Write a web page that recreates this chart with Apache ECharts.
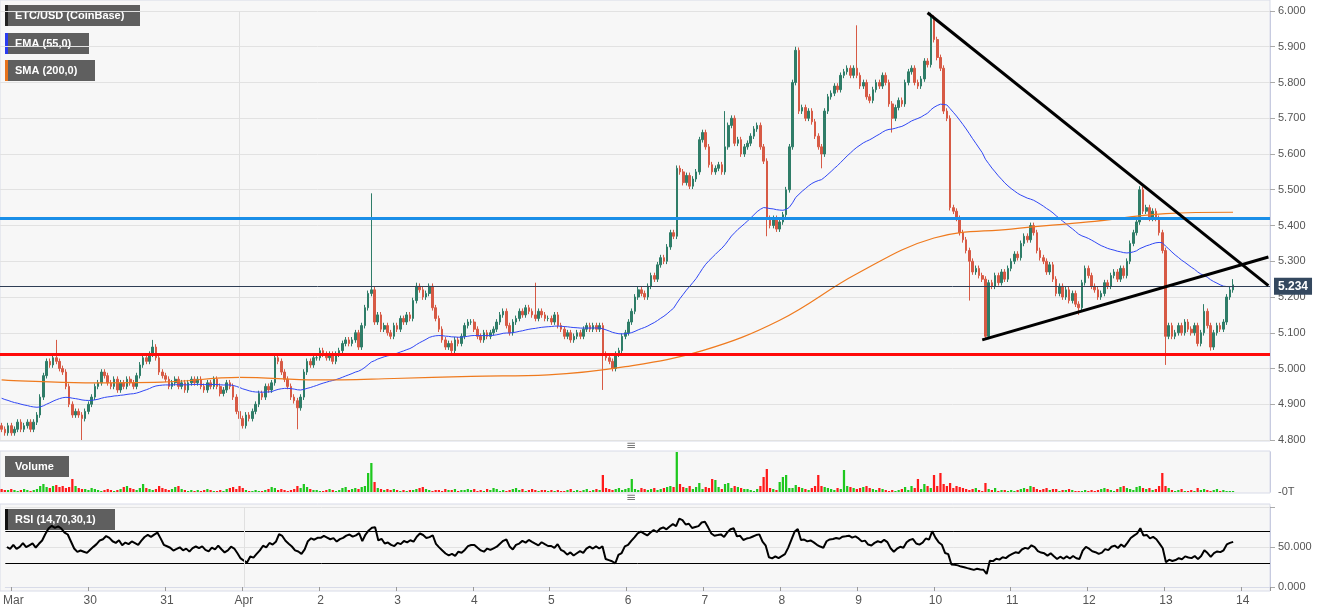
<!DOCTYPE html>
<html>
<head>
<meta charset="utf-8">
<script src="https://cdn.jsdelivr.net/npm/echarts@6/dist/echarts.min.js"></script>
<style>html,body{margin:0;padding:0;background:#fff}#main{width:1331px;height:615px}</style>
</head>
<body>
<div id="main"></div>
<script>
// hourly closes, Mar 28 22:00 -> Apr 13 21:00
var pre   = [4.83, 4.82];
var mar29 = [4.84,4.82,4.83,4.85,4.83,4.84,4.85,4.83,4.85,4.87,4.92,4.98,5.02,5.01,5.03,5.02,5.00,4.99,4.95,4.90,4.87,4.88,4.87,4.86];
var mar30 = [4.88,4.90,4.92,4.95,4.96,4.99,4.98,4.96,4.95,4.97,4.94,4.96,4.95,4.97,4.96,4.95,4.98,5.01,5.03,5.02,5.04,5.06,5.03,4.99];
var mar31 = [4.98,4.97,4.95,4.96,4.97,4.95,4.96,4.94,4.96,4.97,4.96,4.97,4.95,4.94,4.96,4.95,4.97,4.95,4.93,4.94,4.96,4.95,4.92,4.88];
var apr1  = [4.86,4.84,4.87,4.86,4.88,4.90,4.93,4.92,4.95,4.94,4.96,5.03,5.02,4.99,4.97,4.95,4.92,4.91,4.89,4.92,4.99,5.02,5.01,5.03];
var apr2  = [5.03,5.05,5.04,5.03,5.04,5.02,5.04,5.05,5.07,5.08,5.07,5.08,5.10,5.06,5.12,5.17,5.21,5.22,5.13,5.15,5.11,5.12,5.10,5.09];
var apr3  = [5.12,5.11,5.14,5.13,5.15,5.14,5.19,5.23,5.22,5.20,5.21,5.23,5.17,5.14,5.11,5.08,5.06,5.07,5.05,5.08,5.07,5.09,5.12,5.13];
var apr4  = [5.13,5.11,5.09,5.08,5.10,5.09,5.10,5.11,5.13,5.15,5.16,5.12,5.10,5.13,5.14,5.16,5.15,5.17,5.16,5.15,5.14,5.16,5.15,5.14];
var apr5  = [5.14,5.13,5.15,5.12,5.11,5.09,5.10,5.08,5.09,5.10,5.09,5.11,5.12,5.11,5.12,5.11,5.12,5.04,5.03,5.02,5.00,5.04,5.05,5.09];
var apr6  = [5.10,5.13,5.16,5.20,5.22,5.21,5.20,5.23,5.26,5.25,5.29,5.31,5.30,5.34,5.38,5.37,5.56,5.55,5.52,5.54,5.51,5.53,5.55,5.64];
var apr7  = [5.66,5.62,5.57,5.55,5.56,5.57,5.55,5.62,5.68,5.70,5.63,5.64,5.60,5.62,5.63,5.65,5.67,5.68,5.62,5.58,5.42,5.40,5.42,5.39];
var apr8  = [5.41,5.43,5.50,5.62,5.80,5.89,5.72,5.73,5.70,5.72,5.69,5.65,5.62,5.60,5.72,5.76,5.77,5.79,5.78,5.82,5.83,5.84,5.82,5.84];
var apr9  = [5.82,5.79,5.80,5.76,5.75,5.78,5.80,5.79,5.82,5.80,5.74,5.70,5.73,5.75,5.74,5.80,5.83,5.84,5.80,5.79,5.81,5.86,5.85,5.98];
var apr10 = [5.92,5.87,5.84,5.72,5.70,5.45,5.44,5.42,5.38,5.36,5.33,5.30,5.27,5.28,5.26,5.25,5.09,5.24,5.23,5.26,5.24,5.27,5.25,5.28];
var apr11 = [5.30,5.32,5.31,5.35,5.37,5.36,5.40,5.38,5.33,5.31,5.30,5.27,5.29,5.25,5.21,5.23,5.20,5.22,5.19,5.21,5.18,5.17,5.24,5.28];
var apr12 = [5.26,5.23,5.22,5.20,5.21,5.24,5.23,5.26,5.27,5.25,5.28,5.26,5.30,5.35,5.38,5.41,5.50,5.44,5.45,5.42,5.44,5.42,5.38,5.33];
var apr13 = [5.09,5.12,5.09,5.10,5.12,5.10,5.13,5.11,5.10,5.12,5.07,5.10,5.16,5.12,5.06,5.10,5.12,5.11,5.13,5.20,5.22,5.234];

// long wicks: [day index (0 = Mar 29), hour, high, low]
var wicks = [
  [0,15,5.08,null],[0,23,null,4.80],[1,21,5.08,null],[3,0,null,4.80],[3,18,null,4.83],
  [4,17,5.49,null],[5,7,5.24,null],[6,20,5.24,null],[7,17,null,4.94],
  [9,7,5.72,null],[9,20,null,5.37],[10,5,5.90,null],[10,13,null,5.56],
  [11,0,5.96,null],[11,11,null,5.66],[11,23,5.995,null],
  [12,11,null,5.19],[12,16,null,5.08],[13,21,null,5.15],[14,16,5.51,null],
  [15,0,null,5.01],[15,12,5.18,null],[15,14,null,5.05],[15,21,5.25,null]
];

// volume, same hours
var volPre   = [3,2];
var vol29 = [2,3,2,1,2,3,2,1,2,3,6,8,5,4,6,7,5,6,4,5,13,6,4,3];
var vol30 = [3,2,4,3,2,1,2,3,2,1,2,3,5,6,4,3,2,4,8,4,3,2,3,6];
var vol31 = [4,3,2,3,5,6,3,2,1,2,1,2,1,2,3,2,1,1,2,1,3,4,5,3];
var volA1 = [6,4,2,1,1,2,1,1,2,3,5,4,2,3,2,1,2,3,6,4,8,5,3,2];
var volA2 = [2,1,1,2,3,2,1,2,4,5,2,3,4,3,5,6,19,29,10,4,3,2,3,2];
var volA3 = [3,2,1,2,1,2,2,3,4,5,3,2,1,2,2,1,3,2,2,3,1,2,2,3];
var volA4 = [2,3,1,2,1,3,2,4,3,1,2,1,2,3,4,2,3,1,2,3,2,1,2,2];
var volA5 = [1,2,1,2,1,1,2,3,1,2,1,2,3,1,2,3,2,17,4,3,2,3,4,2];
var volA6 = [3,4,13,3,2,4,3,2,3,4,2,3,4,5,6,5,40,8,5,4,6,3,5,9];
var volA7 = [3,5,4,13,12,5,3,8,9,4,6,5,4,3,3,2,1,3,6,15,23,4,3,2];
var volA8 = [10,15,17,4,4,7,5,4,3,2,4,6,17,6,5,4,3,2,4,3,22,6,5,4];
var volA9 = [3,4,5,6,4,3,2,4,3,2,1,2,1,2,3,5,2,6,4,13,3,8,6,4];
var volA10 = [17,6,19,8,6,9,4,6,5,4,3,2,3,4,2,1,9,3,2,4,1,2,2,1];
var volA11 = [2,1,2,3,4,3,6,5,3,2,3,4,2,3,3,1,2,2,3,2,1,1,1,2];
var volA12 = [1,2,1,2,3,4,3,2,1,3,5,6,4,3,2,5,6,4,3,4,2,3,6,19];
var volA13 = [6,4,2,1,2,3,1,1,2,1,4,2,3,2,1,2,3,1,2,1,1,1];

// SMA(200) read at each midnight, Mar 29 .. Apr 13, plus last candle
var smaDaily = [4.967,4.960,4.962,4.975,4.968,4.972,4.978,4.982,5.005,5.05,5.135,5.265,5.365,5.39,5.41,5.433];
var smaLast = 5.437;

var dayNames = ['Mar','30','31','Apr','2','3','4','5','6','7','8','9','10','11','12','13','14'];
var lastPrice = 5.234, blueLevel = 5.415, redLevel = 5.038;

var closes = [].concat(pre,mar29,mar30,mar31,apr1,apr2,apr3,apr4,apr5,apr6,apr7,apr8,apr9,apr10,apr11,apr12,apr13);
var vols = [].concat(volPre,vol29,vol30,vol31,volA1,volA2,volA3,volA4,volA5,volA6,volA7,volA8,volA9,volA10,volA11,volA12,volA13);
var N = 395, n = closes.length;

var cats = [];
for (var i = 0; i < N; i++) cats.push('c' + i);

var candles = [], volData = [];
for (var i = 0; i < n; i++) {
  var o = i ? closes[i-1] : 4.84, c = closes[i];
  candles.push([o, c, Math.min(o,c) - 0.008, Math.max(o,c) + 0.008]);
  volData.push({value: vols[i], itemStyle: {color: c >= o ? '#1ec81e' : '#ff1a1a'}});
}
wicks.forEach(function (w) {
  var k = 2 + w[0]*24 + w[1];
  if (w[2] != null) candles[k][3] = w[2];
  if (w[3] != null) candles[k][2] = w[3];
});

// EMA 55
var ema = [], e = 4.92, a = 2/56;
for (var i = 0; i < n; i++) { e = e + a*(closes[i]-e); ema.push(+e.toFixed(4)); }
// SMA points
var sma = new Array(n).fill(null);
sma[0] = 4.968;
smaDaily.forEach(function (v, d) { sma[2 + d*24] = v; });
sma[n-1] = smaLast;
// RSI 14 (Wilder)
var rsi = [], ag = 0.008, al = 0.008;
for (var i = 0; i < n; i++) {
  var ch = i ? closes[i] - closes[i-1] : 0;
  ag = (ag*13 + Math.max(ch,0))/14; al = (al*13 + Math.max(-ch,0))/14;
  rsi.push(+(100 - 100/(1 + ag/al)).toFixed(2));
}

var W = 1270;
function isDay(i) { return i >= 2 && (i-2) % 24 === 0; }
var aprIdx = 2 + 3*24;

function box(txt, x, y, w, stripe) {
  return {type: 'group', left: x, top: y, children: [
    {type: 'rect', shape: {x: 0, y: 0, width: w, height: 21}, style: {fill: '#5f5f5f'}},
    {type: 'rect', shape: {x: 0, y: 0, width: 3, height: 21}, style: {fill: stripe}},
    {type: 'text', style: {x: 10, y: 11, text: txt, fill: '#fff', verticalAlign: 'middle', textVerticalAlign: 'middle',
      font: 'bold 11px "Liberation Sans", Arial'}}
  ]};
}

var chart = echarts.init(document.getElementById('main'));
chart.setOption({
  animation: false,
  backgroundColor: '#fff',
  graphic: [
    {type: 'rect', z: -10, shape: {x: 0, y: 0, width: W, height: 441}, style: {fill: '#f7f7f7', stroke: '#d8dbe8'}},
    {type: 'rect', z: -10, shape: {x: 0, y: 451, width: W, height: 42}, style: {fill: '#f7f7f7', stroke: '#d8dbe8'}},
    {type: 'rect', z: -10, shape: {x: 0, y: 504, width: W, height: 87}, style: {fill: '#f7f7f7', stroke: '#d8dbe8'}},
    {type: 'text', left: 626, top: 440, style: {text: '≡', fill: '#777', font: '12px "DejaVu Sans"'}},
    {type: 'text', left: 626, top: 492, style: {text: '≡', fill: '#777', font: '12px "DejaVu Sans"'}},
    {type: 'text', left: 1278, top: 486, style: {text: '-0T', fill: '#555', font: '11px "Liberation Sans", Arial'}},
    box('ETC/USD (CoinBase)', 5, 5, 135, '#222'),
    box('EMA (55,0)', 5, 33, 84, '#2a3cf0'),
    box('SMA (200,0)', 5, 60, 90, '#e8731c'),
    box('Volume', 5, 456, 64, '#5f5f5f'),
    box('RSI (14,70,30,1)', 5, 509, 110, '#111')
  ],
  grid: [
    {left: 0, width: W, top: 11, height: 429},
    {left: 0, width: W, top: 452, height: 40},
    {left: 0, width: W, top: 507, height: 80}
  ],
  xAxis: [0, 1, 2].map(function (g) {
    return {
      type: 'category', gridIndex: g, data: cats, boundaryGap: true,
      axisLine: {show: g === 2, lineStyle: {color: '#d8dbe8'}},
      axisTick: {show: g === 2, interval: function (i) { return isDay(i); }, length: 4, lineStyle: {color: '#999'}},
      axisLabel: {show: g === 2, interval: function (i) { return isDay(i); }, color: '#555', fontSize: 12,
        fontFamily: '"Liberation Sans", Arial', margin: 8,
        formatter: function (v, i) { return dayNames[(i-2)/24]; }},
      splitLine: {show: false}
    };
  }),
  yAxis: [
    {type: 'value', gridIndex: 0, position: 'right', min: 4.8, max: 6.0, interval: 0.1,
     axisLine: {show: true, lineStyle: {color: '#c7cbe0'}}, axisTick: {show: true, length: 5, lineStyle: {color: '#aaa'}},
     axisLabel: {color: '#555', fontSize: 11, fontFamily: '"Liberation Sans", Arial', formatter: function (v) { return v.toFixed(3); }},
     splitLine: {lineStyle: {color: '#e2e2e2'}}},
    {type: 'value', gridIndex: 1, position: 'right', min: 0, max: 40,
     axisLine: {show: true, lineStyle: {color: '#c7cbe0'}}, axisLabel: {show: false}, axisTick: {show: false}, splitLine: {show: false}},
    {type: 'value', gridIndex: 2, position: 'right', min: 0, max: 100, interval: 50,
     axisLine: {show: true, lineStyle: {color: '#c7cbe0'}}, axisTick: {show: true, length: 5, lineStyle: {color: '#aaa'}},
     axisLabel: {color: '#555', fontSize: 11, fontFamily: '"Liberation Sans", Arial',
       formatter: function (v) { return v === 100 ? '' : v.toFixed(3); }},
     splitLine: {lineStyle: {color: '#e2e2e2'}}}
  ],
  series: [
    {type: 'candlestick', xAxisIndex: 0, yAxisIndex: 0, data: candles, barWidth: '65%',
     itemStyle: {color: '#2f7d68', color0: '#d75a45', borderColor: '#2f7d68', borderColor0: '#d75a45', borderWidth: 1},
     markLine: {symbol: 'none', silent: true, animation: false, data: [
       [{coord: [aprIdx, 4.8], lineStyle: {color: '#e0e0e0', width: 1, type: 'solid'}}, {coord: [aprIdx, 6.0]}],
       {yAxis: blueLevel, lineStyle: {color: '#1a8fe8', width: 3, type: 'solid'}, label: {show: false}},
       {yAxis: redLevel, lineStyle: {color: '#ff0a0a', width: 3, type: 'solid'}, label: {show: false}},
       {yAxis: lastPrice, lineStyle: {color: '#2f3e55', width: 1, type: 'solid'},
        label: {show: true, position: 'end', formatter: '5.234', color: '#fff', fontWeight: 'bold', fontSize: 12,
          backgroundColor: '#34485f', padding: [3, 4, 2, 4], distance: 4}},
       [{coord: [288, 5.995], lineStyle: {color: '#000', width: 3, type: 'solid'}}, {coord: [394, 5.232]}],
       [{coord: [305, 5.08], lineStyle: {color: '#000', width: 3, type: 'solid'}}, {coord: [394, 5.312]}]
     ]}},
    {type: 'line', xAxisIndex: 0, yAxisIndex: 0, data: ema, showSymbol: false, lineStyle: {color: '#3047f5', width: 1}, z: 3},
    {type: 'line', xAxisIndex: 0, yAxisIndex: 0, data: sma, showSymbol: false, connectNulls: true, smooth: 0.4,
     lineStyle: {color: '#ef7a1e', width: 1.2}, z: 3},
    {type: 'bar', xAxisIndex: 1, yAxisIndex: 1, data: volData, barWidth: '70%'},
    {type: 'line', xAxisIndex: 2, yAxisIndex: 2, data: rsi, showSymbol: false, lineStyle: {color: '#000', width: 2},
     markLine: {symbol: 'none', silent: true, label: {show: false}, data: [
       {yAxis: 70, lineStyle: {color: '#000', width: 1, type: 'solid'}},
       {yAxis: 30, lineStyle: {color: '#000', width: 1, type: 'solid'}},
       [{coord: [aprIdx, 0], lineStyle: {color: '#e0e0e0', width: 1, type: 'solid'}}, {coord: [aprIdx, 100]}]
     ]}}
  ]
});
</script>
</body>
</html>
